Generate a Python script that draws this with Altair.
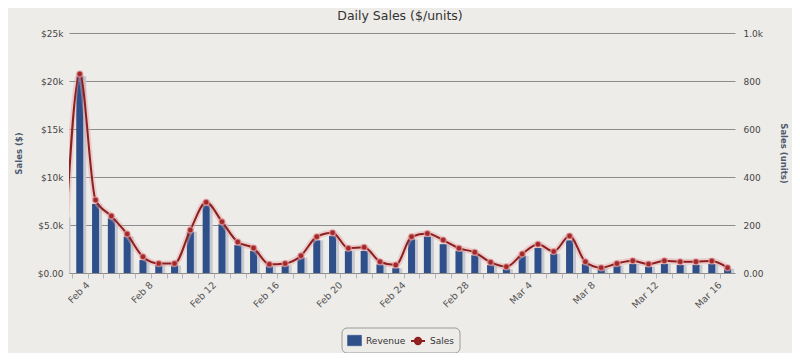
import altair as alt
import pandas as pd

# ---- data ----
dates = [
    "2014-02-03", "2014-02-04", "2014-02-05", "2014-02-06", "2014-02-07", "2014-02-08",
    "2014-02-09", "2014-02-10", "2014-02-11", "2014-02-12", "2014-02-13", "2014-02-14",
    "2014-02-15", "2014-02-16", "2014-02-17", "2014-02-18", "2014-02-19", "2014-02-20",
    "2014-02-21", "2014-02-22", "2014-02-23", "2014-02-24", "2014-02-25", "2014-02-26",
    "2014-02-27", "2014-02-28", "2014-03-01", "2014-03-02", "2014-03-03", "2014-03-04",
    "2014-03-05", "2014-03-06", "2014-03-07", "2014-03-08", "2014-03-09", "2014-03-10",
    "2014-03-11", "2014-03-12", "2014-03-13", "2014-03-14", "2014-03-15", "2014-03-16",
    "2014-03-17",
]
revenue = [
    5800, 20500, 7200, 5700, 3800, 1350,
    830, 800, 4300, 7050, 5080, 2900,
    2300, 760, 800, 1600, 3400, 3850,
    2300, 2300, 900, 500, 3500, 3800,
    3000, 2300, 1850, 830, 400, 1800,
    2600, 2000, 3400, 940, 500, 760,
    940, 660, 940, 830, 850, 940,
    450,
]
sales = [
    40, 829, 304, 237, 162, 68,
    40, 40, 179, 295, 214, 129,
    104, 36, 40, 72, 151, 168,
    103, 107, 47, 33, 151, 165,
    137, 103, 86, 45, 26, 79,
    120, 90, 154, 47, 22, 40,
    51, 37, 51, 47, 47, 50,
    22,
]
label_every = 4
left_ticks = [0, 5000, 10000, 15000, 20000, 25000]
right_ticks = [0, 200, 400, 600, 800, 1000]
chart_title = "Daily Sales ($/units)"

df = pd.DataFrame({
    "date": [d + "T00:00:00Z" for d in dates],
    "Revenue": revenue,
    "Sales": sales,
})

DAY_MS = 86400000
# tick positions between the daily bars (noon), in ms UTC
day_ms = [int(pd.Timestamp(d, tz="UTC").value // 10**6) for d in dates]
tick_ms = [m + DAY_MS // 2 for m in day_ms]
first_label_ms = tick_ms[1]
x_domain = [day_ms[1] - int(0.68 * DAY_MS), day_ms[-1] + int(0.47 * DAY_MS)]

FONT = "DejaVu Sans"
BG = "#EEECE9"
BLUE = "#2F4F8B"
RED = "#A3282B"
DARKRED = "#8E1F1F"

x_enc = alt.X(
    "date:T",
    scale=alt.Scale(type="utc", domain=x_domain, nice=False, padding=0),
    axis=alt.Axis(
        values=tick_ms,
        labelExpr=f"((datum.value - {first_label_ms}) / {DAY_MS}) % {label_every} == 0 ? utcFormat(datum.value, '%b %-d') : ''",
        labelAngle=-45,
        labelAlign="right",
        labelBaseline="middle",
        labelPadding=5,
        labelOverlap=False,
        labelFont=FONT,
        labelFontSize=9.5,
        labelColor="#555555",
        tickColor="#B5B5B5",
        tickSize=5,
        domain=False,
        grid=False,
        title=None,
    ),
)

left_axis = alt.Axis(
    orient="left",
    values=left_ticks,
    labelExpr="datum.value == 0 ? '$0.00' : datum.value == 5000 ? '$5.0k' : '$' + format(datum.value / 1000, 'd') + 'k'",
    grid=True,
    gridColor="#8C8C8C",
    gridOpacity=1,
    gridWidth=1,
    domain=False,
    ticks=False,
    labelPadding=6,
    labelFont=FONT,
    labelFontSize=9,
    labelColor="#444444",
    title="Sales ($)",
    titleFont=FONT,
    titleFontSize=8.5,
    titleFontWeight="bold",
    titleColor="#4E5A6E",
    titleX=-51,
    titleY=120,
    titleAngle=270,
    titleBaseline="middle",
    titleAlign="center",
)

right_axis = alt.Axis(
    orient="right",
    values=right_ticks,
    labelExpr="datum.value == 0 ? '0.00' : datum.value == 1000 ? '1.0k' : format(datum.value, 'd')",
    grid=False,
    domain=False,
    ticks=False,
    labelPadding=8,
    labelFont=FONT,
    labelFontSize=9,
    labelColor="#444444",
    title="Sales (units)",
    titleFont=FONT,
    titleFontSize=8.5,
    titleFontWeight="bold",
    titleColor="#4E5A6E",
    titleX=48,
    titleY=120,
    titleAngle=90,
    titleBaseline="middle",
    titleAlign="center",
)

y_rev = alt.Y("Revenue:Q", scale=alt.Scale(domain=[0, 25000], nice=False, zero=True), axis=left_axis)
y_units = alt.Y("Sales:Q", scale=alt.Scale(domain=[0, 1000], nice=False, zero=True), axis=right_axis)

legend_common = dict(
    title=None,
    orient="none",
    direction="horizontal",
    padding=0,
    labelFont=FONT,
    labelFontSize=9,
    labelColor="#333333",
    labelOffset=4,
    symbolSize=196,
)
legend_rev = alt.Legend(
    legendX=278, legendY=300,
    symbolType="M-1,-0.75L1,-0.75L1,0.75L-1,0.75Z",
    symbolFillColor=BLUE, symbolStrokeColor=BLUE, symbolStrokeWidth=0.5,
    **legend_common,
)
legend_sales = alt.Legend(
    legendX=341, legendY=300,
    symbolType="M-1,0L1,0M-0.45,0A0.45,0.45,0,1,1,0.45,0A0.45,0.45,0,1,1,-0.45,0Z",
    symbolFillColor=RED, symbolStrokeColor=DARKRED, symbolStrokeWidth=2,
    **legend_common,
)

base = alt.Chart(df)

shadow = base.mark_bar(size=7, xOffset=3, color="#C6C9D2", clip=True).encode(x=x_enc, y=y_rev)
bars = base.mark_bar(size=7, clip=True).transform_calculate(series="'Revenue'").encode(
    x=x_enc, y=y_rev,
    fill=alt.Fill("series:N", scale=alt.Scale(domain=["Revenue"], range=[BLUE]), legend=legend_rev),
)
bar_layer = alt.layer(shadow, bars)

halo = base.mark_line(interpolate="monotone", color="#E3A6A6", strokeWidth=6, opacity=0.45, clip=True).encode(x=x_enc, y=y_units)
line = base.mark_line(interpolate="monotone", strokeWidth=2, clip=True).transform_calculate(series="'Sales'").encode(
    x=x_enc, y=y_units,
    stroke=alt.Stroke("series:N", scale=alt.Scale(domain=["Sales"], range=[DARKRED]), legend=legend_sales),
)
points = base.mark_point(filled=True, size=36, opacity=1, color=RED, stroke="#E7A9A9", strokeWidth=1.5, strokeOpacity=0.6, clip=True).encode(
    x=x_enc, y=y_units,
)
line_layer = alt.layer(halo, line, points)

deco = alt.Chart(pd.DataFrame({"k": [0]}))
# rounded border around the legend (decoration only)
legend_box = deco.mark_rect(
    fill=None, stroke="#9A9A9A", strokeWidth=1, cornerRadius=5, clip=False
).encode(x=alt.value(273), x2=alt.value(391), y=alt.value(295), y2=alt.value(320))
# chart title as text
title_text = deco.mark_text(
    text=chart_title, font=FONT, fontSize=12.5, color="#333333",
    align="center", baseline="alphabetic", clip=False,
).encode(x=alt.value(331), y=alt.value(-13))

chart = (
    alt.layer(bar_layer, line_layer, legend_box, title_text)
    .resolve_scale(y="independent", fill="independent", stroke="independent")
    .properties(
        width=666,
        height=240,
        autosize=alt.AutoSizeParams(type="none"),
        padding={"left": 61, "top": 25, "right": 57, "bottom": 80},
        background=BG,
    )
    .configure_view(stroke=None)
)

chart.save("out.html", embed_options={"renderer": "svg", "actions": False})
